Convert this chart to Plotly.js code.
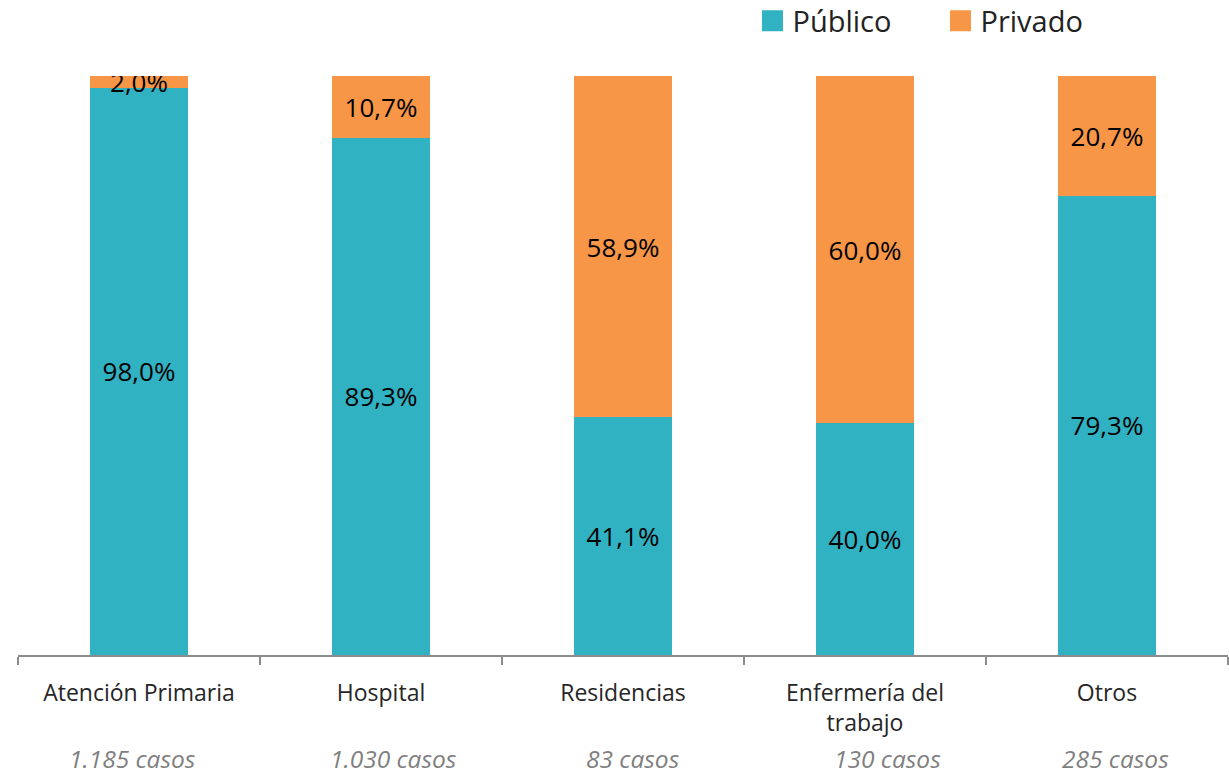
<!DOCTYPE html>
<html><head><meta charset="utf-8">
<script src="https://cdn.plot.ly/plotly-3.0.1.min.js"></script>
<style>body{margin:0;background:#fff}#chart{width:1229px;height:774px}</style>
</head><body><div id="chart"></div>
<script>
const categories = ["Atención Primaria", "Hospital", "Residencias", "Enfermería del trabajo", "Otros"];
const tickLabels = ["Atención Primaria", "Hospital", "Residencias", "Enfermería del<br>trabajo", "Otros"];
const casos = ["1.185 casos", "1.030 casos", "83 casos", "130 casos", "285 casos"];
const publico = [98.0, 89.3, 41.1, 40.0, 79.3];
const privado = [2.0, 10.7, 58.9, 60.0, 20.7];

const fmt = v => v.toFixed(1).replace('.', ',') + '%';
const FONT = '"Open Sans", "Noto Sans", sans-serif';
const casosShift = [-7, 12, 10, 22, 8];

const common = {
  type: 'bar', x: categories, textposition: 'inside', insidetextanchor: 'middle',
  constraintext: 'none', textfont: {family: FONT, size: 26, color: '#000'},
  hoverinfo: 'skip'
};
const data = [
  Object.assign({}, common, {name: 'Público', y: publico, text: publico.map(fmt), marker: {color: '#31B2C3'}}),
  Object.assign({}, common, {name: 'Privado', y: privado, text: privado.map(fmt), marker: {color: '#F79646'}})
];

const layout = {
  width: 1229, height: 774,
  margin: {l: 18, r: 1, t: 76, b: 119, autoexpand: false},
  barmode: 'stack', bargap: 0.595,
  paper_bgcolor: '#fff', plot_bgcolor: '#fff',
  font: {family: FONT, color: '#000'},
  uniformtext: {mode: 'show', minsize: 10},
  showlegend: true,
  legend: {orientation: 'h', x: 0.607, y: 1.095, xanchor: 'left', yanchor: 'middle',
           font: {family: FONT, size: 29, color: '#222'}, itemwidth: 30, traceorder: 'normal',
           entrywidth: 143, entrywidthmode: 'pixels'},
  xaxis: {
    type: 'category', tickvals: categories, ticktext: tickLabels,
    showline: true, linecolor: '#8c8c8c', linewidth: 1.5,
    ticks: 'outside', tickson: 'boundaries', ticklen: 8, tickcolor: '#8c8c8c', tickwidth: 1.5,
    tickfont: {family: FONT, size: 23, color: '#262626'}, ticklabelstandoff: 17,
    showgrid: false, zeroline: false
  },
  yaxis: {range: [0, 100], visible: false, showgrid: false, zeroline: false, fixedrange: true},
  annotations: categories.map((c, i) => ({
    x: c, xref: 'x', y: -0.178, yref: 'paper', text: casos[i], showarrow: false,
    xshift: casosShift[i], yanchor: 'middle',
    font: {family: FONT, size: 24.5, color: '#7f7f7f', style: 'italic'}
  }))
};

Plotly.newPlot('chart', data, layout, {staticPlot: true, displayModeBar: false}).then(() => {
  document.querySelectorAll('.legendpoints path').forEach(p => {
    p.setAttribute('d', 'M10.5,10.5H-10.5V-10.5H10.5Z');
    p.style.strokeWidth = '0';
  });
});
</script></body></html>
